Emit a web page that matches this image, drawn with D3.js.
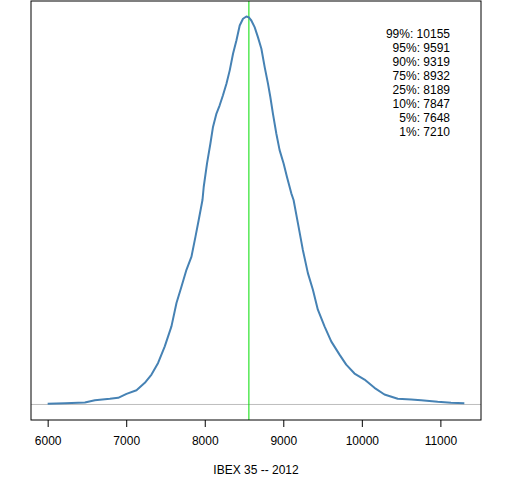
<!DOCTYPE html>
<html>
<head>
<meta charset="utf-8">
<script src="https://cdn.jsdelivr.net/npm/d3@7"></script>
<style>
  body { margin: 0; background: #fff; }
  svg { font-family: "Liberation Sans", Arial, sans-serif; }
</style>
</head>
<body>
<svg id="chart" width="512" height="480"></svg>
<script>
// density estimate of IBEX 35 daily closes, 2012 (density in units of 1e-4)
const prices = [6000, 6220, 6474, 6601, 6792, 6898, 7004, 7131, 7237, 7322,
  7406, 7491, 7576, 7640, 7704, 7767, 7831, 7882, 7923, 7971,
  7987, 8029, 8072, 8105, 8149, 8190, 8232, 8276, 8318, 8360,
  8403, 8445, 8487, 8530, 8559, 8593, 8635, 8677, 8721, 8763,
  8805, 8835, 8868, 8911, 8953, 9004, 9046, 9102, 9131, 9186,
  9249, 9313, 9377, 9440, 9525, 9610, 9716, 9801, 9907, 10034,
  10161, 10288, 10457, 10628, 10755, 10966, 11136, 11305];
const density = [0.013, 0.025, 0.039, 0.083, 0.110, 0.129, 0.206, 0.276, 0.418, 0.578,
  0.804, 1.124, 1.510, 1.961, 2.281, 2.603, 2.859, 3.245, 3.567, 3.952,
  4.209, 4.660, 5.046, 5.366, 5.624, 5.784, 5.977, 6.202, 6.459, 6.781,
  7.037, 7.326, 7.456, 7.500, 7.487, 7.423, 7.294, 7.101, 6.877, 6.523,
  6.202, 5.944, 5.624, 5.238, 4.917, 4.660, 4.402, 4.082, 3.952, 3.505,
  2.988, 2.539, 2.217, 1.832, 1.510, 1.220, 0.964, 0.771, 0.598, 0.482,
  0.322, 0.193, 0.110, 0.096, 0.083, 0.052, 0.033, 0.025];

const quantileLabels = ['99%', '95%', '90%', '75%', '25%', '10%', '5%', '1%'];
const quantileValues = [10155, 9591, 9319, 8932, 8189, 7847, 7648, 7210];
const medianValue = 8562;
const xTicks = [6000, 7000, 8000, 9000, 10000, 11000];

const svg = d3.select('#chart');
const plot = { left: 31, right: 481, top: 1, bottom: 420 };

// R style 4% padding on both axes
const [xMin, xMax] = d3.extent(prices);
const xPad = (xMax - xMin) * 0.04;
const x = d3.scaleLinear()
    .domain([xMin - xPad, xMax + xPad])
    .range([plot.left, plot.right]);

const yMax = d3.max(density);
const y = d3.scaleLinear()
    .domain([-yMax * 0.04, yMax * 1.04])
    .range([plot.bottom, plot.top]);

// zero line
svg.append('line')
   .attr('x1', plot.left).attr('x2', plot.right)
   .attr('y1', y(0)).attr('y2', y(0))
   .attr('stroke', '#bebebe')
   .attr('stroke-width', 1);

// median line
svg.append('line')
   .attr('x1', x(medianValue)).attr('x2', x(medianValue))
   .attr('y1', plot.top).attr('y2', plot.bottom)
   .attr('stroke', '#00dd00')
   .attr('stroke-width', 1);

// density curve
const line = d3.line()
    .x((d, i) => x(prices[i]))
    .y(d => y(d));

svg.append('path')
   .datum(density)
   .attr('d', line)
   .attr('fill', 'none')
   .attr('stroke', '#4682b4')
   .attr('stroke-width', 2)
   .attr('stroke-linejoin', 'round');

// box
svg.append('rect')
   .attr('x', plot.left).attr('y', plot.top)
   .attr('width', plot.right - plot.left)
   .attr('height', plot.bottom - plot.top)
   .attr('fill', 'none')
   .attr('stroke', '#000')
   .attr('stroke-width', 1);

// x axis
const xAxis = d3.axisBottom(x)
    .tickValues(xTicks)
    .tickSize(7)
    .tickPadding(9)
    .tickFormat(d3.format('d'));

const gx = svg.append('g')
   .attr('transform', `translate(0,${plot.bottom})`)
   .call(xAxis);
gx.select('.domain').remove();
gx.selectAll('text')
  .attr('font-size', '12px')
  .attr('fill', '#000')
  .attr('font-family', '"Liberation Sans", Arial, sans-serif');

svg.append('text')
   .attr('x', (plot.left + plot.right) / 2)
   .attr('y', 474)
   .attr('text-anchor', 'middle')
   .attr('font-size', '12px')
   .text('IBEX 35 -- 2012');

// quantile table
svg.append('g')
   .selectAll('text')
   .data(quantileLabels)
   .join('text')
   .attr('x', 450)
   .attr('y', (d, i) => 37.5 + i * 14.1)
   .attr('text-anchor', 'end')
   .attr('font-size', '12px')
   .text((d, i) => `${d}: ${quantileValues[i]}`);
</script>
</body>
</html>
